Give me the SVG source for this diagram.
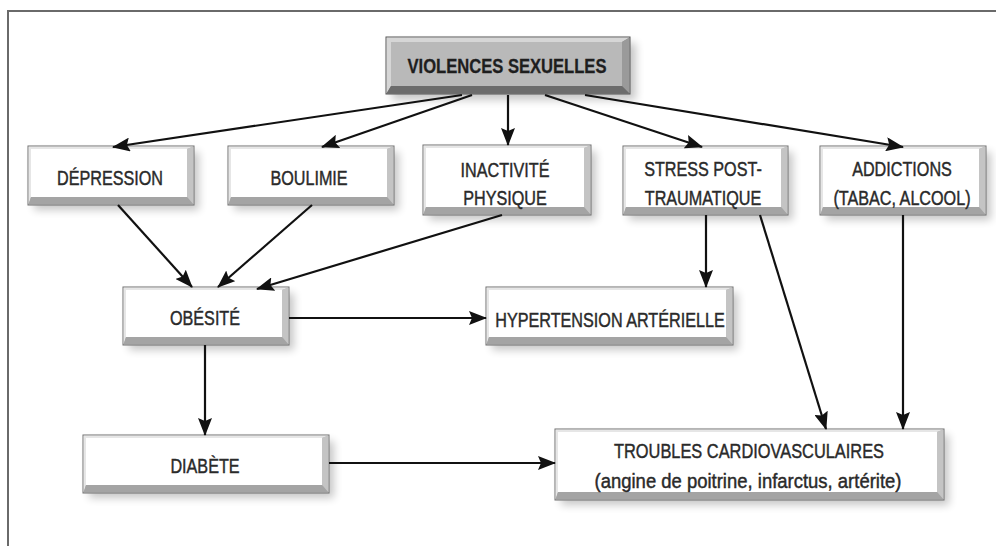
<svg xmlns="http://www.w3.org/2000/svg" width="996" height="546" viewBox="0 0 996 546">
<style>
.frame{stroke:#6a6a6a;stroke-width:2;fill:none}
.base{fill:#b4b4b4;stroke:#6e6e6e;stroke-width:1}
.face{fill:#ffffff}
.bb{fill:#a4a4a4}
.br{fill:#c4c4c4}
.tl{fill:#e6e6e6}
.shadow{fill:#000;opacity:0.22;filter:url(#blur)}
.tbase{fill:#8c8c8c;stroke:#555;stroke-width:1}
.tface{fill:#b9b9b9}
.tbb{fill:#6c6c6c}
.tbr{fill:#9a9a9a}
.ttl{fill:#d6d6d6}
.lbl{font-family:"Liberation Sans",Arial,sans-serif;font-size:21px;fill:#2a2a2a;stroke:#2a2a2a;stroke-width:0.45;text-anchor:middle}
.title{font-weight:bold;fill:#1e1e1e;stroke:#1e1e1e;stroke-width:0.3}
.conn line{stroke:#111;stroke-width:2.2;marker-end:url(#ah)}
</style>
<defs>
<filter id="blur" x="-20%" y="-40%" width="140%" height="180%"><feGaussianBlur stdDeviation="4"/></filter>
<marker id="ah" markerUnits="userSpaceOnUse" markerWidth="18" markerHeight="14" viewBox="0 0 18 14" refX="17" refY="7" orient="auto"><path d="M0,0 L18,7 L0,14 L3,7 Z" fill="#111"/></marker>
</defs>
<rect width="996" height="546" fill="#fff"/>
<path class="frame" d="M8,546 V11 H996"/>

<g id="violences">
<rect class="shadow" x="392" y="43" width="244" height="57"/>
<rect class="tbase" x="386" y="37" width="244" height="57"/>
<polygon class="ttl" points="386.5,37.5 629.5,37.5 622,42 391,42 391,86 386.5,93.5"/>
<polygon class="tbr" points="629.5,37.5 629.5,93.5 622,86 622,42"/>
<polygon class="tbb" points="386.5,93.5 629.5,93.5 622,86 391,86"/>
<rect class="tface" x="391" y="42" width="231" height="44"/>
<text class="lbl title" transform="translate(507,73) scale(0.79,1)">VIOLENCES SEXUELLES</text>
</g>

<g id="depression">
<rect class="shadow" x="34" y="152" width="165" height="58"/>
<rect class="base" x="28" y="146" width="166" height="59"/>
<polygon class="tl" points="28.5,146.5 193.5,146.5 187,149 31,149 31,197 28.5,204.5"/>
<polygon class="br" points="193.5,146.5 193.5,204.5 187,197 187,149"/>
<polygon class="bb" points="28.5,204.5 193.5,204.5 187,197 31,197"/>
<rect class="face" x="31" y="149" width="156" height="48"/>
<text class="lbl" transform="translate(110,185) scale(0.77,1)">DÉPRESSION</text>
</g>

<g id="boulimie">
<rect class="shadow" x="234" y="152" width="165" height="58"/>
<rect class="base" x="228" y="146" width="166" height="59"/>
<polygon class="tl" points="228.5,146.5 393.5,146.5 387,149 231,149 231,197 228.5,204.5"/>
<polygon class="br" points="393.5,146.5 393.5,204.5 387,197 387,149"/>
<polygon class="bb" points="228.5,204.5 393.5,204.5 387,197 231,197"/>
<rect class="face" x="231" y="149" width="156" height="48"/>
<text class="lbl" transform="translate(309,185) scale(0.77,1)">BOULIMIE</text>
</g>

<g id="inactivite">
<rect class="shadow" x="429" y="151" width="167" height="69"/>
<rect class="base" x="423" y="145" width="168" height="70"/>
<polygon class="tl" points="423.5,145.5 590.5,145.5 584,148 426,148 426,207 423.5,214.5"/>
<polygon class="br" points="590.5,145.5 590.5,214.5 584,207 584,148"/>
<polygon class="bb" points="423.5,214.5 590.5,214.5 584,207 426,207"/>
<rect class="face" x="426" y="148" width="158" height="59"/>
<text class="lbl" transform="translate(505,177) scale(0.77,1)">INACTIVITÉ</text>
<text class="lbl" transform="translate(505,205) scale(0.77,1)">PHYSIQUE</text>
</g>

<g id="stress">
<rect class="shadow" x="629" y="152" width="164" height="68"/>
<rect class="base" x="623" y="146" width="165" height="69"/>
<polygon class="tl" points="623.5,146.5 787.5,146.5 781,149 626,149 626,207 623.5,214.5"/>
<polygon class="br" points="787.5,146.5 787.5,214.5 781,207 781,149"/>
<polygon class="bb" points="623.5,214.5 787.5,214.5 781,207 626,207"/>
<rect class="face" x="626" y="149" width="155" height="58"/>
<text class="lbl" transform="translate(703,176) scale(0.77,1)">STRESS POST-</text>
<text class="lbl" transform="translate(703,205) scale(0.77,1)">TRAUMATIQUE</text>
</g>

<g id="addictions">
<rect class="shadow" x="826" y="152" width="165" height="68"/>
<rect class="base" x="820" y="146" width="166" height="69"/>
<polygon class="tl" points="820.5,146.5 985.5,146.5 979,149 823,149 823,207 820.5,214.5"/>
<polygon class="br" points="985.5,146.5 985.5,214.5 979,207 979,149"/>
<polygon class="bb" points="820.5,214.5 985.5,214.5 979,207 823,207"/>
<rect class="face" x="823" y="149" width="156" height="58"/>
<text class="lbl" transform="translate(902,176) scale(0.77,1)">ADDICTIONS</text>
<text class="lbl" transform="translate(902,205) scale(0.77,1)">(TABAC, ALCOOL)</text>
</g>

<g id="obesite">
<rect class="shadow" x="129" y="293" width="165" height="57"/>
<rect class="base" x="123" y="287" width="166" height="58"/>
<polygon class="tl" points="123.5,287.5 288.5,287.5 282,290 126,290 126,337 123.5,344.5"/>
<polygon class="br" points="288.5,287.5 288.5,344.5 282,337 282,290"/>
<polygon class="bb" points="123.5,344.5 288.5,344.5 282,337 126,337"/>
<rect class="face" x="126" y="290" width="156" height="47"/>
<text class="lbl" transform="translate(205,325) scale(0.77,1)">OBÉSITÉ</text>
</g>

<g id="hypertension">
<rect class="shadow" x="492" y="293" width="246" height="57"/>
<rect class="base" x="486" y="287" width="247" height="58"/>
<polygon class="tl" points="486.5,287.5 732.5,287.5 726,290 489,290 489,337 486.5,344.5"/>
<polygon class="br" points="732.5,287.5 732.5,344.5 726,337 726,290"/>
<polygon class="bb" points="486.5,344.5 732.5,344.5 726,337 489,337"/>
<rect class="face" x="489" y="290" width="237" height="47"/>
<text class="lbl" transform="translate(610,327) scale(0.77,1)">HYPERTENSION ARTÉRIELLE</text>
</g>

<g id="diabete">
<rect class="shadow" x="89" y="441" width="245" height="57"/>
<rect class="base" x="83" y="435" width="246" height="58"/>
<polygon class="tl" points="83.5,435.5 328.5,435.5 322,438 86,438 86,485 83.5,492.5"/>
<polygon class="br" points="328.5,435.5 328.5,492.5 322,485 322,438"/>
<polygon class="bb" points="83.5,492.5 328.5,492.5 322,485 86,485"/>
<rect class="face" x="86" y="438" width="236" height="47"/>
<text class="lbl" transform="translate(205,473) scale(0.77,1)">DIABÈTE</text>
</g>

<g id="troubles">
<rect class="shadow" x="561" y="435" width="388" height="70"/>
<rect class="base" x="555" y="429" width="389" height="71"/>
<polygon class="tl" points="555.5,429.5 943.5,429.5 937,432 558,432 558,492 555.5,499.5"/>
<polygon class="br" points="943.5,429.5 943.5,499.5 937,492 937,432"/>
<polygon class="bb" points="555.5,499.5 943.5,499.5 937,492 558,492"/>
<rect class="face" x="558" y="432" width="379" height="60"/>
<text class="lbl" transform="translate(749,458) scale(0.78,1)">TROUBLES CARDIOVASCULAIRES</text>
<text class="lbl" transform="translate(748,488) scale(0.88,1)">(angine de poitrine, infarctus, artérite)</text>
</g>

<g id="connectors" class="conn">
<line x1="462" y1="95" x2="113" y2="147"/>
<line x1="472" y1="95" x2="322" y2="147"/>
<line x1="508" y1="95" x2="508" y2="145"/>
<line x1="545" y1="95" x2="702" y2="147"/>
<line x1="585" y1="95" x2="903" y2="147"/>
<line x1="118" y1="205" x2="192" y2="287"/>
<line x1="312" y1="205" x2="218" y2="287"/>
<line x1="502" y1="215" x2="257" y2="289"/>
<line x1="706" y1="215" x2="706" y2="287"/>
<line x1="760" y1="215" x2="826" y2="429"/>
<line x1="903" y1="215" x2="903" y2="429"/>
<line x1="289" y1="318" x2="486" y2="318"/>
<line x1="205" y1="345" x2="205" y2="435"/>
<line x1="329" y1="463" x2="555" y2="463"/>
</g>
</svg>
